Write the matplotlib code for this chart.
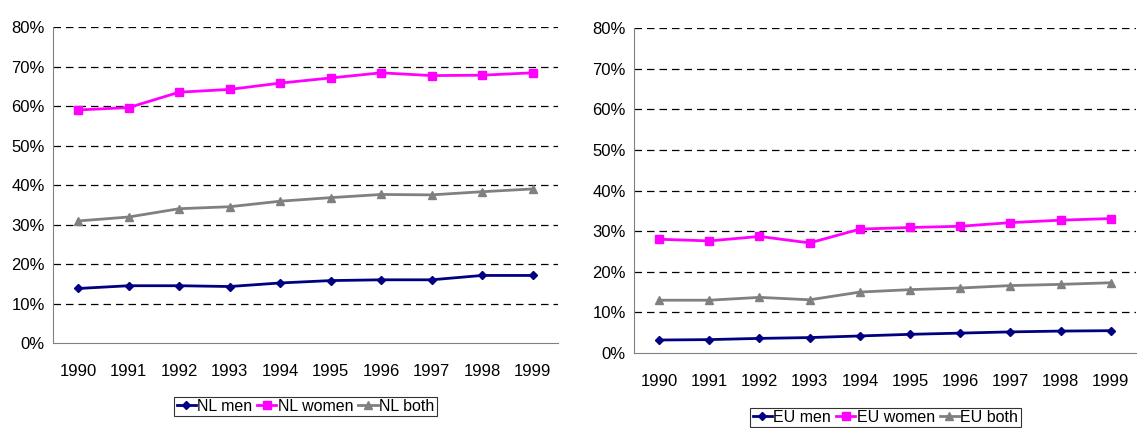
import numpy as np
import matplotlib
matplotlib.use("Agg")
import matplotlib.pyplot as plt
from matplotlib.ticker import PercentFormatter

plt.rcParams['font.family'] = ['Liberation Sans', 'DejaVu Sans']
plt.rcParams['font.size'] = 12

years = ['1990', '1991', '1992', '1993', '1994', '1995', '1996', '1997', '1998', '1999']

nl_men = [13.8, 14.5, 14.5, 14.3, 15.2, 15.8, 16.0, 16.0, 17.1, 17.1]
nl_women = [59.0, 59.6, 63.5, 64.2, 65.8, 67.1, 68.4, 67.7, 67.8, 68.4]
nl_both = [30.9, 31.9, 34.0, 34.5, 35.9, 36.8, 37.6, 37.5, 38.3, 39.0]

eu_men = [3.2, 3.3, 3.6, 3.8, 4.2, 4.6, 4.9, 5.2, 5.4, 5.5]
eu_women = [28.0, 27.6, 28.7, 27.1, 30.5, 30.9, 31.2, 32.1, 32.7, 33.1]
eu_both = [13.0, 13.0, 13.7, 13.1, 15.0, 15.6, 16.0, 16.6, 16.9, 17.3]

navy = '#000080'
magenta = '#FF00FF'
grey = '#808080'


def panel(ax, men, women, both, prefix, legend_xy):
    x = np.arange(len(years))
    ax.plot(x, men, color=navy, lw=2, marker='D', ms=4, label=prefix + ' men')
    ax.plot(x, women, color=magenta, lw=2, marker='s', ms=6, label=prefix + ' women')
    ax.plot(x, both, color=grey, lw=2, marker='^', ms=6, label=prefix + ' both')

    ax.set_xlim(-0.5, len(years) - 0.5)
    ax.set_ylim(0, 80)
    ax.set_xticks(x)
    ax.set_xticklabels(years)
    ax.set_yticks(np.arange(0, 81, 10))
    ax.yaxis.set_major_formatter(PercentFormatter(decimals=0))
    for v in range(10, 81, 10):
        ax.axhline(v, color='black', lw=0.9, ls=(0, (6, 4)), zorder=0)
    for s in ['top', 'right']:
        ax.spines[s].set_visible(False)
    ax.spines['left'].set_color('#808080')
    ax.spines['bottom'].set_color('#808080')
    ax.tick_params(axis='x', length=0, pad=15)
    ax.tick_params(axis='y', length=0, pad=6)

    leg = ax.legend(loc='center', bbox_to_anchor=legend_xy, bbox_transform=ax.figure.transFigure,
                    ncol=3, frameon=True, fancybox=False, handlelength=1.2, fontsize=11.5,
                    handletextpad=0.1, columnspacing=0.3, borderpad=0.15, borderaxespad=0)
    leg.get_frame().set_edgecolor('black')
    leg.get_frame().set_linewidth(0.8)


fig = plt.figure(figsize=(11.37, 4.28), dpi=100)
ax1 = fig.add_axes([0.0466, 0.1986, 0.444, 0.7383])
ax2 = fig.add_axes([0.5576, 0.1752, 0.4415, 0.7593])

panel(ax1, nl_men, nl_women, nl_both, 'NL', (0.2687, 0.0502))
panel(ax2, eu_men, eu_women, eu_both, 'EU', (0.7788, 0.0245))

fig.savefig('out.png', dpi=100)
